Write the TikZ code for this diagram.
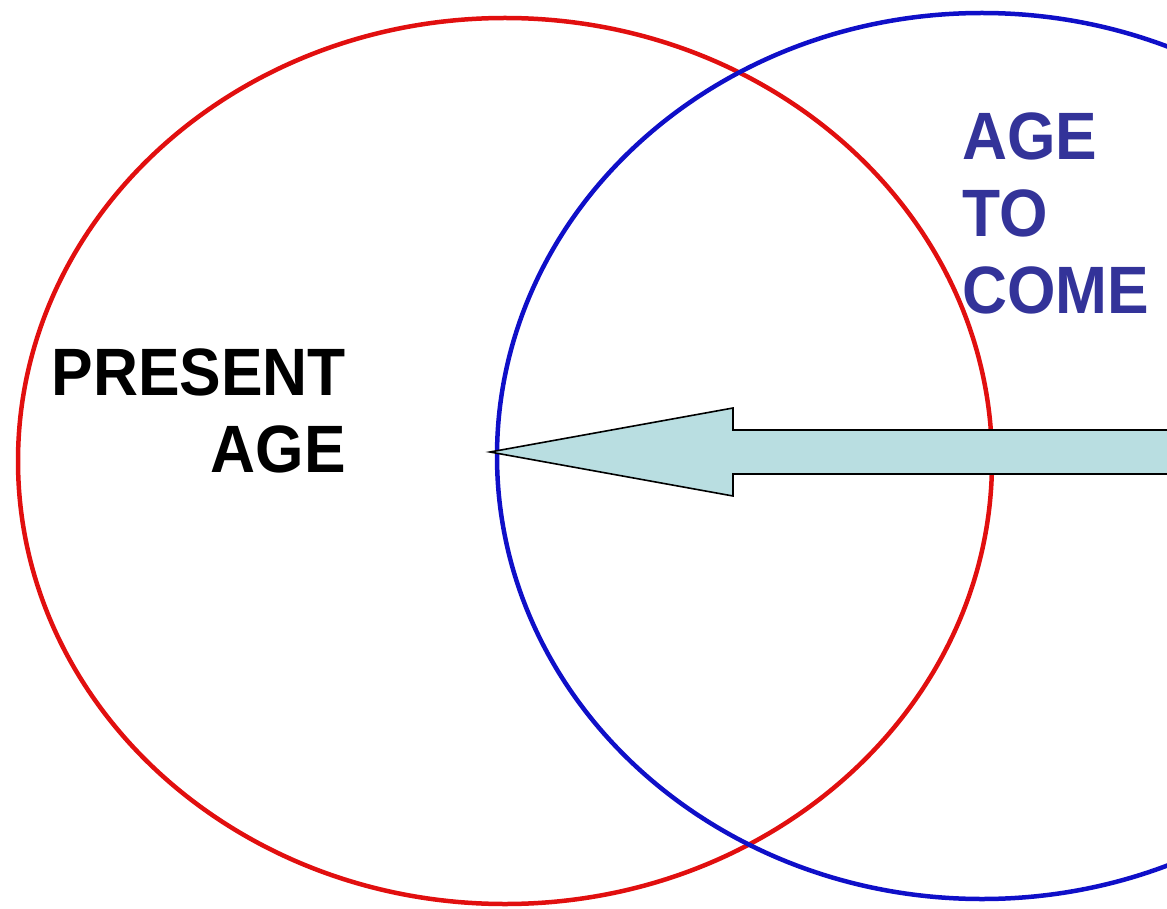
\documentclass[tikz,border=0pt]{standalone}
\usepackage{fontspec}
\setmainfont{Liberation Sans}
\usetikzlibrary{shapes.geometric}
\definecolor{ringred}{RGB}{225,15,15}
\definecolor{ringblue}{RGB}{15,15,200}
\definecolor{textblue}{RGB}{51,51,153}
\definecolor{arrowfill}{RGB}{185,222,225}
\tikzset{
  ring/.style={ellipse, inner sep=0pt, outer sep=0pt, line width=4.5pt, minimum width=974pt, minimum height=886pt},
  bigtext/.style={inner sep=0pt, font=\fontsize{67}{77}\selectfont\bfseries, xscale=0.93},
  arrowshape/.style={draw=black, line width=1.6pt, fill=arrowfill, line join=miter}
}
\begin{document}
\begin{tikzpicture}[x=1pt, y=-1pt]
\useasboundingbox (0,0) rectangle (1167,909);
\clip (0,0) rectangle (1167,909);
\node[ring, draw=ringred] (present) at (505,461) {};
\node[ring, draw=ringblue, minimum width=970pt] (come) at (982,456) {};
\coordinate (tip) at (490,452);
\coordinate (tail) at (1175,452);
\draw[arrowshape] (tip) -- (733,408) -- (733,430) -- (tail |- 0,430) -- (tail |- 0,474) -- (733,474) -- (733,496) -- cycle;
\node[bigtext, anchor=base east] (present1) at (346,395) {PRESENT};
\node[bigtext, anchor=base east] (present2) at (346,472) {AGE};
\node[bigtext, text=textblue, anchor=base west] (come1) at (962,160) {AGE};
\node[bigtext, text=textblue, anchor=base west] (come2) at (962,237) {TO};
\node[bigtext, text=textblue, anchor=base west] (come3) at (962,313) {COME};
\end{tikzpicture}
\end{document}
